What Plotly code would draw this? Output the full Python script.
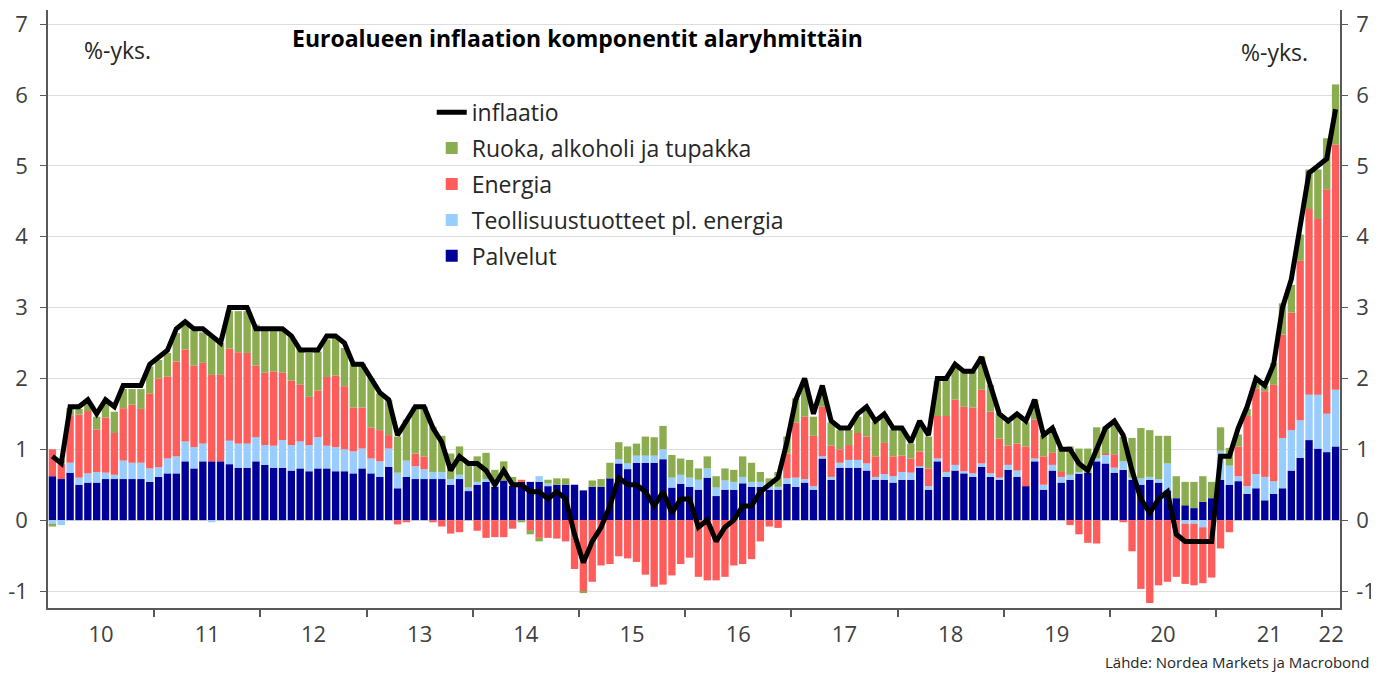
import plotly.graph_objects as go

# Monthly contributions to euro area HICP inflation, Jan 2010 - Feb 2022 (%-points)
palvelut = [0.62,0.58,0.67,0.50,0.53,0.53,0.58,0.58,0.58,0.58,0.58,0.54,
            0.61,0.66,0.66,0.83,0.73,0.83,0.83,0.83,0.79,0.74,0.74,0.83,
            0.78,0.74,0.74,0.70,0.73,0.69,0.73,0.73,0.69,0.69,0.66,0.73,
            0.66,0.61,0.75,0.45,0.61,0.58,0.58,0.58,0.58,0.50,0.58,0.41,
            0.50,0.54,0.47,0.56,0.49,0.54,0.54,0.54,0.48,0.50,0.50,0.50,
            0.42,0.47,0.47,0.59,0.80,0.72,0.81,0.81,0.81,0.86,0.46,0.51,
            0.47,0.43,0.60,0.34,0.43,0.43,0.52,0.47,0.47,0.43,0.43,0.51,
            0.47,0.53,0.43,0.87,0.57,0.74,0.74,0.74,0.70,0.57,0.57,0.53,
            0.57,0.57,0.74,0.43,0.83,0.61,0.70,0.66,0.61,0.75,0.61,0.57,
            0.71,0.61,0.48,0.83,0.43,0.70,0.53,0.57,0.66,0.67,0.83,0.80,
            0.67,0.71,0.57,0.50,0.57,0.53,0.42,0.31,0.21,0.17,0.26,0.31,
            0.57,0.50,0.55,0.37,0.45,0.28,0.37,0.45,0.70,0.88,1.13,1.01,
            0.96,1.04]
teollisuus = [-0.05,-0.07,0.14,0.10,0.13,0.15,0.09,0.06,0.26,0.23,0.23,0.19,
              0.14,0.21,0.24,0.28,0.30,0.25,-0.03,0.00,0.33,0.34,0.34,0.34,
              0.28,0.31,0.39,0.36,0.38,0.37,0.44,0.32,0.34,0.31,0.31,0.28,
              0.21,0.22,0.26,0.22,0.23,0.18,0.14,0.10,0.10,0.08,0.06,0.05,
              0.04,0.04,0.04,0.00,0.02,0.00,0.00,0.08,0.04,0.00,0.00,0.00,
              0.00,0.00,0.00,0.00,0.06,0.08,0.10,0.10,0.10,0.14,0.14,0.13,
              0.13,0.14,0.13,0.12,0.13,0.11,0.09,0.07,0.07,0.04,0.04,0.08,
              0.13,0.05,0.05,0.03,0.04,0.07,0.11,0.11,0.10,0.04,0.08,0.09,
              0.11,0.10,0.02,0.05,0.04,0.07,0.08,0.03,0.05,0.05,0.05,0.03,
              0.07,0.09,0.00,0.04,0.07,0.08,0.08,0.07,0.02,0.00,0.04,0.12,
              0.07,0.12,0.03,0.09,0.04,0.05,0.38,0.00,-0.05,-0.05,-0.10,0.00,
              0.41,0.27,0.07,0.11,0.20,0.33,0.18,0.71,0.57,0.53,0.64,0.76,
              0.54,0.80]
energia = [0.38,0.22,0.67,0.89,0.88,0.60,0.78,0.59,0.74,0.82,0.76,1.06,
           1.25,1.16,1.34,1.30,1.15,1.14,1.22,1.22,1.30,1.29,1.28,1.01,
           1.02,1.05,0.95,0.91,0.80,0.68,0.66,0.97,1.01,0.89,0.62,0.58,
           0.44,0.44,0.19,-0.06,-0.03,0.18,0.18,-0.03,-0.09,-0.19,-0.17,0.00,
           -0.15,-0.25,-0.24,-0.24,-0.12,0.03,-0.14,-0.25,-0.25,-0.26,-0.30,-0.69,
           -1.00,-0.87,-0.64,-0.62,-0.51,-0.54,-0.59,-0.77,-0.94,-0.91,-0.78,-0.62,
           -0.53,-0.80,-0.85,-0.85,-0.80,-0.64,-0.62,-0.55,-0.30,-0.09,-0.11,0.35,
           0.78,0.88,0.71,0.70,0.44,0.19,0.21,0.38,0.38,0.29,0.44,0.28,
           0.23,0.20,0.21,0.25,0.60,0.79,0.92,0.91,0.93,1.04,0.87,0.55,
           0.27,0.38,0.56,0.55,0.40,0.17,0.07,-0.07,-0.20,-0.32,-0.33,0.02,
           0.19,-0.03,-0.44,-0.97,-1.17,-0.92,-0.87,-0.80,-0.85,-0.87,-0.79,-0.81,
           -0.40,-0.17,0.42,0.99,1.21,1.21,1.36,1.46,1.66,2.25,2.62,2.48,
           3.17,3.46]
ruoka = [-0.04,0.05,0.10,0.08,0.12,0.18,0.22,0.30,0.27,0.22,0.28,0.38,
         0.26,0.33,0.40,0.37,0.51,0.43,0.54,0.45,0.53,0.58,0.59,0.58,
         0.59,0.57,0.59,0.62,0.51,0.62,0.55,0.53,0.55,0.54,0.62,0.62,
         0.69,0.52,0.50,0.51,0.58,0.66,0.70,0.64,0.51,0.36,0.40,0.35,
         0.36,0.37,0.20,0.27,0.10,-0.03,-0.06,-0.05,0.05,0.09,0.09,0.00,
         -0.03,0.09,0.11,0.22,0.24,0.24,0.17,0.27,0.26,0.33,0.32,0.23,
         0.25,0.16,0.17,0.16,0.17,0.17,0.29,0.27,0.14,0.12,0.21,0.24,
         0.34,0.52,0.27,0.24,0.33,0.27,0.21,0.23,0.38,0.49,0.40,0.38,
         0.37,0.21,0.40,0.45,0.49,0.53,0.49,0.50,0.51,0.47,0.38,0.36,
         0.33,0.38,0.34,0.28,0.30,0.35,0.33,0.40,0.33,0.34,0.44,0.38,
         0.46,0.35,0.56,0.71,0.66,0.61,0.39,0.31,0.33,0.37,0.36,0.23,
         0.33,0.25,0.17,0.10,0.07,0.07,0.31,0.44,0.39,0.37,0.56,0.70,
         0.72,0.85]
inflaatio = [0.9,0.8,1.6,1.6,1.7,1.5,1.7,1.6,1.9,1.9,1.9,2.2,
             2.3,2.4,2.7,2.8,2.7,2.7,2.6,2.5,3.0,3.0,3.0,2.7,
             2.7,2.7,2.7,2.6,2.4,2.4,2.4,2.6,2.6,2.5,2.2,2.2,
             2.0,1.8,1.7,1.2,1.4,1.6,1.6,1.3,1.1,0.7,0.9,0.8,
             0.8,0.7,0.5,0.7,0.5,0.5,0.4,0.4,0.3,0.4,0.3,-0.2,
             -0.6,-0.3,-0.1,0.2,0.6,0.5,0.5,0.4,0.2,0.4,0.1,0.3,
             0.3,-0.1,0.0,-0.3,-0.1,0.0,0.2,0.2,0.4,0.5,0.6,1.1,
             1.7,2.0,1.5,1.9,1.4,1.3,1.3,1.5,1.6,1.4,1.5,1.3,
             1.3,1.1,1.4,1.2,2.0,2.0,2.2,2.1,2.1,2.3,1.9,1.5,
             1.4,1.5,1.4,1.7,1.2,1.3,1.0,1.0,0.8,0.7,1.0,1.3,
             1.4,1.2,0.7,0.3,0.1,0.3,0.4,-0.2,-0.3,-0.3,-0.3,-0.3,
             0.9,0.9,1.3,1.6,2.0,1.9,2.2,3.0,3.4,4.1,4.9,5.0,
             5.1,5.8]

year_labels = ["10","11","12","13","14","15","16","17","18","19","20","21","22"]
y_ticks = [-1, 0, 1, 2, 3, 4, 5, 6, 7]
y_ticktext = ["-1", "0", "1", "2", "3", "4", "5", "6", "7"]

months = list(range(len(inflaatio)))
label_pos = [12 * k + 5.5 for k in range(12)] + [144.5]
year_bounds = [12 * k - 0.5 for k in range(1, 13)]

FONT = "Open Sans"
TXT = "#404040"
AX = "#595959"

fig = go.Figure()
series = [
    ("Palvelut", palvelut, "#000099", 5),
    ("Teollisuustuotteet pl. energia", teollisuus, "#99CCFF", 4),
    ("Energia", energia, "#FF5C5C", 3),
    ("Ruoka, alkoholi ja tupakka", ruoka, "#8BAD4F", 2),
]
for name, vals, col, rank in series:
    fig.add_trace(go.Bar(x=months, y=vals, name=name, marker_color=col,
                         marker_line_width=0, legendrank=rank, legendgroup=name))
fig.add_trace(go.Scatter(x=months, y=inflaatio, name="inflaatio", mode="lines",
                         line=dict(color="black", width=5), legendrank=1,
                         legendgroup="inflaatio", yaxis="y2"))

yr = [-1.24, 7.2]
yax_common = dict(range=yr, tickmode="array", tickvals=y_ticks, ticktext=y_ticktext,
                  zeroline=False, showline=True, linecolor=AX, linewidth=1.5,
                  ticks="outside", ticklen=6, tickcolor=AX, automargin=False,
                  ticklabeloverflow="allow", tickfont=dict(size=22, color=TXT))
# page body adds an 8px margin, so the figure's origin sits at (8, 8) in the window
fig.update_layout(
    width=1371, height=668,
    margin=dict(l=40, r=39, t=2, b=68, autoexpand=False),
    paper_bgcolor="white", plot_bgcolor="white",
    barmode="relative", bargap=0.17,
    font=dict(family=FONT, color=TXT, size=22),
    showlegend=True,
    legend=dict(x=0.297, y=0.865, xanchor="left", yanchor="top",
                bgcolor="rgba(255,255,255,0)", traceorder="grouped",
                tracegroupgap=3, font=dict(size=23, color="#262626"),
                itemwidth=30),
    xaxis=dict(range=[-0.5, 145.5], tickmode="array", tickvals=label_pos,
               ticktext=year_labels, ticks="", showgrid=False, zeroline=False,
               showline=True, linecolor=AX, linewidth=1.5, automargin=False,
               ticklabelstandoff=6, ticklabeloverflow="allow",
               tickfont=dict(size=22, color=TXT),
               minor=dict(tickmode="array", tickvals=year_bounds, ticks="outside",
                          ticklen=7, tickcolor=AX, tickwidth=1.5, showgrid=False)),
    yaxis=dict(showgrid=True, gridcolor="#DDDDDD", gridwidth=1,
               ticklabelstandoff=8, **yax_common),
    yaxis2=dict(overlaying="y", side="right", showgrid=False,
                ticklabelstandoff=4, **yax_common),
    annotations=[
        dict(text="<b>Euroalueen inflaation komponentit alaryhmittäin</b>",
             xref="paper", yref="paper", x=0.410, y=0.953, showarrow=False,
             xanchor="center", yanchor="middle", font=dict(size=23, color="black")),
        dict(text="%-yks.", xref="paper", yref="paper", x=0.026, y=0.933,
             showarrow=False, xanchor="left", yanchor="middle",
             font=dict(size=23, color="#262626")),
        dict(text="%-yks.", xref="paper", yref="paper", x=0.977, y=0.930,
             showarrow=False, xanchor="right", yanchor="middle",
             font=dict(size=23, color="#262626")),
        dict(text="Lähde: Nordea Markets ja Macrobond", xref="paper", yref="paper",
             x=1.025, y=-0.090, showarrow=False, xanchor="right", yanchor="middle",
             font=dict(size=15, color="#262626")),
    ],
)
fig.write_html("out.html")
